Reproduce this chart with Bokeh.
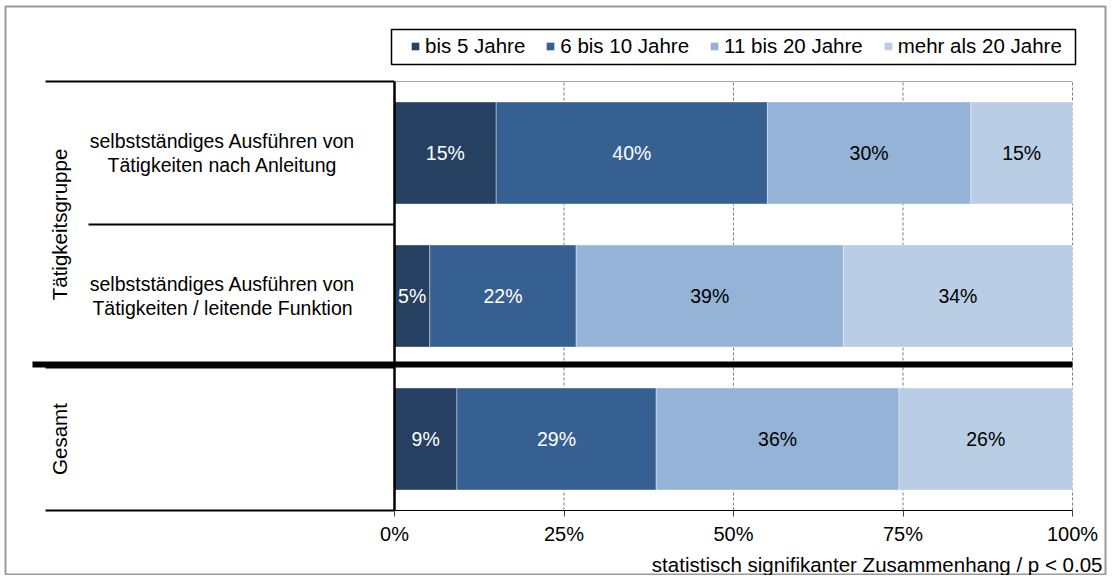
import math
from bokeh.plotting import figure
from bokeh.models import (ColumnDataSource, Range1d, FixedTicker, PrintfTickFormatter,
                          Legend, LegendItem, Label)
from bokeh.core.properties import value
from bokeh.embed import file_html
from bokeh.resources import INLINE

# ---------------- data ----------------
categories = ["selbstständiges Ausführen von\nTätigkeiten nach Anleitung",
              "selbstständiges Ausführen von\nTätigkeiten / leitende Funktion",
              ""]
groups = ["Tätigkeitsgruppe", "Gesamt"]
group_sizes = [2, 1]
series = ["bis 5 Jahre", "6 bis 10 Jahre", "11 bis 20 Jahre", "mehr als 20 Jahre"]
bis_5 = [15.0, 5.2, 9.2]
bis_10 = [40.0, 21.6, 29.4]
bis_20 = [30.0, 39.4, 35.8]
mehr_20 = [15.0, 33.8, 25.6]
x_ticks = [0, 25, 50, 75, 100]
footnote = "statistisch signifikanter Zusammenhang / p < 0.05"

colors = ["#264061", "#366092", "#95B3D7", "#B9CDE5"]
label_colors = ["white", "white", "black", "black"]
FONT_NAME = "Liberation Sans"
FONT = value(FONT_NAME)

# ---------------- geometry helpers (canvas pixels -> data) ----------------
W, H = 1107, 575
X0, X100 = 394.0, 1072.0          # px of 0% and 100%
Y_TOP, Y_BOT = 81, 510             # px of plot area
n = len(categories)
PPX = (X100 - X0) / 100.0
PPY = (Y_BOT - Y_TOP) / n


def px_x(xw):
    return (xw - X0) / PPX


def px_y(yw):
    return (Y_BOT - yw) / PPY


p = figure(width=W, height=H, output_backend="svg", toolbar_location=None,
           x_range=Range1d(px_x(0), px_x(W)), y_range=Range1d(px_y(H), px_y(0)),
           y_axis_location=None, min_border=0,
           background_fill_color="white", border_fill_color="white")
p.outline_line_color = None
p.xgrid.visible = False
p.ygrid.visible = False

ys = [n - i - 0.5 for i in range(n)]
keys = ["s0", "s1", "s2", "s3"]
vals = [bis_5, bis_10, bis_20, mehr_20]
src = ColumnDataSource(dict(y=ys, **{k: v for k, v in zip(keys, vals)}))

# outer frame
p.quad(left=[px_x(5)], right=[px_x(W - 2)], top=[px_y(6)], bottom=[px_y(H - 1)],
       fill_color=None, line_color="#9a9a9a", line_width=2)

# gridlines (dashed) behind bars
p.segment(x0=x_ticks[1:], x1=x_ticks[1:], y0=[0] * 4, y1=[n] * 4,
          line_color="#7f7f7f", line_dash="3 2", line_width=1)

rs = p.hbar_stack(keys, y="y", height=0.713, color=colors, source=src,
                  line_color="white", line_width=0.6, line_alpha=0.6)

# value labels
lx, ly, lt, lc = [], [], [], []
for i in range(n):
    start = 0.0
    for j, v in enumerate(vals):
        lx.append(start + v[i] / 2.0)
        ly.append(ys[i])
        lt.append(f"{round(v[i])}%")
        lc.append(label_colors[j])
        start += v[i]
p.text(x=lx, y=ly, text=lt, text_color=lc, text_align="center", text_baseline="middle",
       text_font=FONT, text_font_size="19.5px")

# category labels
p.text(x=[px_x(222)] * n, y=ys, text=categories, text_align="center", text_baseline="middle",
       text_font=FONT, text_font_size="19.5px", text_color="black", text_line_height=1.12)

# group labels (rotated)
gy, acc = [], 0
for s in group_sizes:
    gy.append(n - acc - s / 2.0)
    acc += s
p.text(x=[px_x(59)] * len(groups), y=gy, text=groups, angle=math.pi / 2,
       text_align="center", text_baseline="middle", text_font=FONT,
       text_font_size="20.5px", text_color="black")

# category axis lines
bounds, acc = [n], 0
for s in group_sizes:
    acc += s
    bounds.append(n - acc)
p.segment(x0=[px_x(45)] * len(bounds), x1=[0] * len(bounds), y0=bounds, y1=bounds,
          line_color="black", line_width=2)
sub_bounds = [n - 1]
p.segment(x0=[px_x(88)], x1=[0], y0=sub_bounds, y1=sub_bounds, line_color="black", line_width=2)
# top border of plot area
p.segment(x0=[0], x1=[100], y0=[n], y1=[n], line_color="#a6a6a6", line_width=1)
# thick group separator
p.segment(x0=[px_x(32)], x1=[100], y0=[px_y(364)], y1=[px_y(364)], line_color="black", line_width=6)
# vertical category axis line
p.segment(x0=[0], x1=[0], y0=[0], y1=[n], line_color="black", line_width=2.5)

# legend box
p.quad(left=[px_x(391)], right=[px_x(1075)], top=[px_y(29)], bottom=[px_y(64)],
       fill_color=None, line_color="black", line_width=1.5)
legend = Legend(items=[LegendItem(label=s, renderers=[r]) for s, r in zip(series, rs)],
                orientation="horizontal", location=(410, H - 58),
                border_line_color=None, background_fill_alpha=0, padding=0, margin=0,
                spacing=20, label_standoff=5, glyph_width=10, glyph_height=10,
                label_text_font=FONT_NAME, label_text_font_size="20.5px", label_text_color="black")
p.add_layout(legend)

# x axis (drawn at the bottom of the bars area)
ax = p.xaxis[0]
ax.fixed_location = 0
ax.ticker = FixedTicker(ticks=x_ticks)
ax.formatter = PrintfTickFormatter(format="%d%%")
ax.bounds = (0, 100)
ax.axis_line_color = "black"
ax.axis_line_width = 1
ax.major_tick_line_color = "#404040"
ax.major_tick_out = 6
ax.major_tick_in = 0
ax.minor_tick_line_color = None
ax.major_label_standoff = 6
ax.major_label_text_font = FONT_NAME
ax.major_label_text_font_size = "20px"
ax.major_label_text_color = "black"

# footnote
p.add_layout(Label(x=px_x(1102), y=px_y(564), text=footnote, text_align="right",
                   text_baseline="middle", text_font=FONT_NAME,
                   text_font_size="20.5px", text_color="black"))

open("out.html", "w").write(file_html(p, INLINE))
